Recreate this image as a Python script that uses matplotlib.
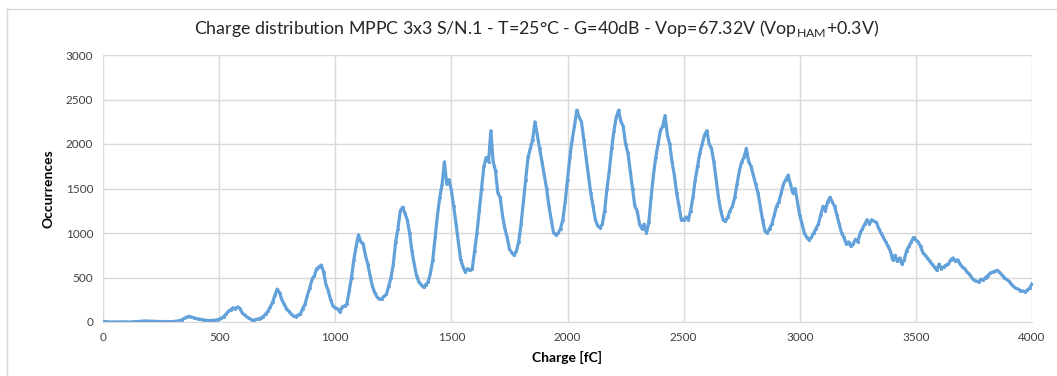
import numpy as np
import matplotlib.pyplot as plt
from matplotlib.lines import Line2D

plt.rcParams['font.family'] = ['Lato', 'DejaVu Sans']
plt.rcParams['mathtext.fontset'] = 'custom'
plt.rcParams['mathtext.rm'] = 'Lato'

# Charge bins (fC), 10 fC step
charge = np.arange(0, 4001, 10)

# Occurrences, one row per 100 fC
occurrences = [
    8, 5, 2, 0, 0, 2, 0, 0, 3, 0,
    2, 0, 0, 3, 5, 5, 8, 10, 12, 10,
    10, 8, 8, 5, 6, 5, 6, 4, 3, 5,
    5, 8, 10, 15, 25, 40, 55, 65, 55, 50,
    40, 35, 30, 25, 20, 18, 15, 20, 18, 25,
    30, 45, 60, 90, 120, 140, 160, 150, 170, 150,
    100, 80, 55, 40, 25, 20, 30, 35, 45, 60,
    90, 120, 170, 220, 300, 370, 330, 250, 200, 150,
    120, 90, 70, 60, 80, 90, 150, 200, 300, 380,
    480, 520, 600, 620, 640, 560, 420, 350, 250, 180,
    160, 150, 110, 170, 180, 200, 350, 500, 700, 850,
    980, 900, 880, 750, 650, 520, 400, 330, 280, 260,
    260, 290, 310, 400, 500, 650, 900, 1050, 1250, 1290,
    1220, 1150, 1000, 800, 650, 520, 450, 420, 390, 420,
    450, 550, 700, 950, 1200, 1400, 1550, 1800, 1550, 1600,
    1480, 1300, 1100, 900, 700, 620, 560, 600, 580, 600,
    800, 1000, 1250, 1500, 1750, 1850, 1800, 2150, 1800, 1700,
    1450, 1400, 1200, 1050, 950, 820, 780, 750, 800, 900,
    1100, 1350, 1600, 1850, 1950, 2050, 2250, 2100, 1950, 1800,
    1650, 1500, 1300, 1150, 1000, 980, 1000, 1050, 1150, 1350,
    1600, 1850, 2050, 2200, 2380, 2300, 2250, 2050, 1850, 1650,
    1450, 1300, 1150, 1080, 1060, 1100, 1250, 1500, 1700, 1950,
    2150, 2300, 2380, 2250, 2200, 2000, 1900, 1700, 1500, 1300,
    1250, 1100, 1050, 1100, 1000, 1120, 1400, 1650, 1850, 2000,
    2150, 2200, 2320, 2100, 2000, 1800, 1650, 1450, 1300, 1150,
    1150, 1180, 1150, 1250, 1400, 1600, 1750, 1900, 2000, 2100,
    2150, 2000, 1950, 1800, 1600, 1400, 1250, 1150, 1130, 1180,
    1250, 1300, 1400, 1550, 1700, 1800, 1850, 1950, 1800, 1750,
    1650, 1550, 1450, 1300, 1150, 1020, 1000, 1050, 1100, 1200,
    1300, 1350, 1450, 1550, 1600, 1650, 1550, 1450, 1500, 1350,
    1200, 1100, 1000, 950, 920, 950, 1000, 1050, 1100, 1200,
    1300, 1250, 1350, 1400, 1350, 1300, 1200, 1100, 1000, 950,
    880, 900, 850, 880, 930, 900, 1000, 1050, 1100, 1150,
    1100, 1150, 1130, 1120, 1050, 1000, 950, 900, 850, 800,
    700, 750, 680, 720, 650, 700, 800, 850, 900, 950,
    920, 900, 850, 780, 750, 720, 680, 650, 620, 580,
    650, 600, 620, 640, 650, 700, 720, 680, 700, 650,
    620, 600, 560, 540, 500, 470, 460, 450, 480, 470,
    500, 520, 550, 560, 570, 580, 560, 530, 500, 480,
    460, 430, 400, 380, 370, 350, 350, 340, 360, 380,
    430,
]

xticks = [0, 500, 1000, 1500, 2000, 2500, 3000, 3500, 4000]
yticks = [0, 500, 1000, 1500, 2000, 2500, 3000]

fig = plt.figure(figsize=(10.57, 3.76), dpi=100)
ax = fig.add_axes([103 / 1057, 1 - 322 / 376, 929 / 1057, 267 / 376])

ax.plot(charge, occurrences, color='#62a1d9', linewidth=2.3,
        marker='.', markersize=2.5)

ax.set_xlim(0, 4000)
ax.set_ylim(0, 3000)
ax.set_xticks(xticks)
ax.set_yticks(yticks)
ax.tick_params(length=0, labelsize=8.5, labelcolor='#404040', pad=7)
ax.grid(True, color='#d9d9d9', linewidth=1)
ax.set_axisbelow(True)
for side in ['left', 'right', 'top']:
    ax.spines[side].set_visible(False)
ax.spines['bottom'].set_color('#d9d9d9')

ax.set_xlabel('Charge [fC]', fontsize=10, fontweight='bold', labelpad=6)
ax.set_ylabel('Occurrences', fontsize=10, fontweight='bold', labelpad=8)

fig.text(0.508, 0.925,
         r'Charge distribution MPPC 3x3 S/N.1 - T=25°C - G=40dB - Vop=67.32V (Vop$_{\mathrm{HAM}}$+0.3V)',
         ha='center', va='center', fontsize=12.8, color='#262626')

# chart area border
fig.add_artist(Line2D([7 / 1057, 1], [1 - 9 / 376, 1 - 9 / 376], color='#d9d9d9', linewidth=1))
fig.add_artist(Line2D([7 / 1057, 7 / 1057], [0, 1 - 9 / 376], color='#d9d9d9', linewidth=1))

fig.savefig('out.png', dpi=100)
